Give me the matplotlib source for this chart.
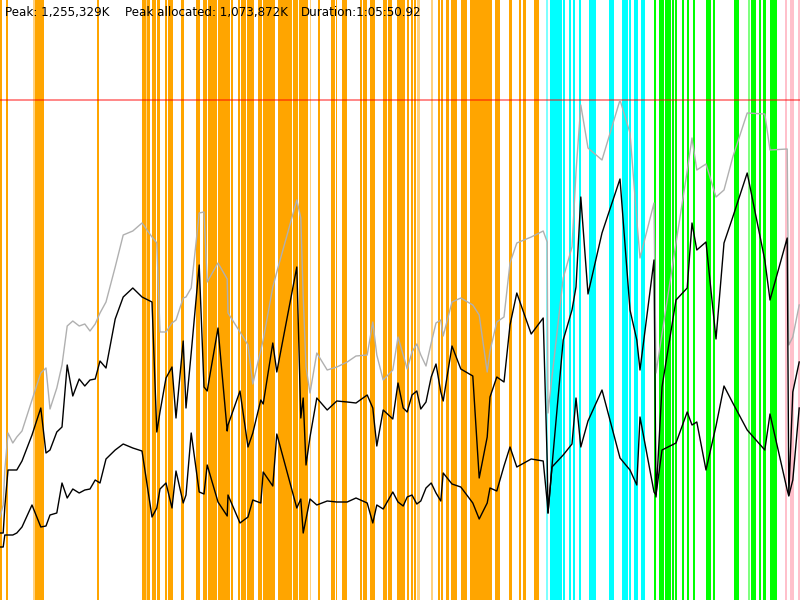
import matplotlib
matplotlib.use("Agg")
from matplotlib import pyplot as plt

# time as % of the run (1:05:50.92), memory as % of peak heap (1,255,329K)
t = [0, 0.4, 0.6, 1.0, 1.6, 2.1, 2.75, 4.0, 5.1, 5.75, 6.25, 7.1, 7.75, 8.4, 9.1, 9.9,
     10.6, 11.25, 11.9, 12.5, 13.25, 14.4, 15.4, 16.6, 17.75, 19.0, 19.6, 20.0, 20.75,
     21.5, 22.0, 22.9, 23.25, 23.9, 24.9, 25.5, 25.9, 27.25, 28.4, 28.5, 30.0, 31.0,
     31.6, 32.6, 32.9, 34.1, 34.6, 37.1, 37.6, 37.9, 38.25, 38.75, 39.6, 40.9, 42.1,
     43.4, 44.5, 45.9, 46.6, 47.1, 47.9, 49.1, 49.75, 50.4, 50.9, 51.5, 52.1, 52.6,
     53.25, 53.9, 54.5, 55.1, 55.4, 56.5, 57.6, 59.1, 59.9, 60.9, 61.25, 62.1, 63.0,
     63.75, 64.6, 66.4, 67.9, 68.4, 68.5, 69.0, 70.4, 71.5, 72.0, 72.6, 73.5, 75.25,
     77.5, 78.75, 79.6, 80.0, 81.75, 82.0, 82.75, 84.5, 85.9, 86.5, 87.1, 88.25, 89.5,
     90.5, 91.6, 93.4, 95.6, 96.25, 98.4, 98.6, 99.1, 99.9]

heap = [16.6, 19.0, 26.0, 33.4, 31.4, 32.6, 33.8, 40.0, 45.4, 46.4, 38.2, 42.4, 47.0,
        54.8, 55.8, 54.8, 55.2, 53.8, 55.2, 57.4, 59.6, 66.6, 73.0, 73.8, 75.4, 72.6,
        71.4, 53.6, 53.6, 55.4, 56.0, 60.4, 60.6, 62.4, 77.4, 77.6, 63.6, 67.4, 64.2,
        57.4, 53.6, 51.0, 43.2, 50.0, 52.0, 62.6, 65.6, 80.0, 76.4, 60.6, 46.6, 41.4,
        49.4, 46.0, 46.6, 47.6, 48.8, 49.0, 55.6, 49.0, 44.0, 46.0, 52.6, 49.0, 46.2,
        49.6, 51.2, 49.0, 46.8, 51.4, 55.4, 56.0, 52.8, 59.6, 60.4, 59.0, 57.0, 45.6,
        49.8, 55.6, 56.6, 67.4, 71.4, 72.6, 73.8, 71.6, 37.4, 44.6, 64.4, 70.6, 85.6,
        99.0, 90.4, 88.0, 100.0, 93.4, 76.0, 68.4, 79.4, 45.4, 53.2, 71.4, 85.8, 92.4,
        86.0, 87.2, 80.6, 82.0, 88.6, 97.4, 97.2, 90.0, 90.2, 51.0, 52.6, 59.0]

allocated = [13.4, 13.4, 18.6, 26.0, 26.0, 26.0, 27.8, 33.0, 38.4, 29.4, 30.0, 33.6,
             34.6, 47.0, 40.8, 44.2, 42.8, 44.0, 44.2, 47.8, 46.4, 56.2, 60.6, 62.4,
             60.6, 59.6, 33.6, 37.6, 44.4, 46.6, 36.4, 51.8, 38.4, 49.4, 67.0, 42.6,
             41.8, 54.4, 33.8, 35.0, 41.8, 30.6, 33.4, 40.0, 39.2, 51.4, 45.6, 66.6,
             36.4, 40.4, 27.0, 32.6, 40.4, 38.0, 39.8, 39.6, 39.4, 41.0, 38.4, 30.8,
             38.0, 36.2, 43.4, 38.4, 37.6, 41.0, 41.8, 38.2, 39.6, 44.6, 47.2, 41.6,
             39.8, 50.8, 46.2, 44.8, 24.4, 32.6, 40.6, 44.6, 43.6, 55.0, 61.4, 53.2,
             56.4, 27.8, 17.4, 26.8, 52.0, 58.0, 62.6, 80.6, 61.2, 73.4, 84.2, 58.0,
             52.0, 46.0, 68.0, 20.6, 42.6, 60.0, 62.4, 75.4, 70.0, 71.6, 52.2, 71.4,
             76.6, 85.4, 68.0, 60.0, 72.4, 21.0, 41.6, 47.6]

live = [10.6, 10.6, 13.0, 13.0, 13.0, 13.4, 14.6, 19.0, 14.6, 14.8, 17.0, 17.4, 23.4,
        20.4, 22.2, 21.4, 22.0, 22.2, 24.0, 23.4, 28.2, 30.0, 31.2, 30.4, 29.8, 16.6,
        18.4, 22.2, 23.4, 18.4, 25.8, 19.4, 21.0, 33.4, 21.6, 21.2, 27.0, 19.6, 16.8,
        21.0, 15.4, 16.6, 20.0, 19.4, 25.6, 22.8, 33.2, 18.4, 20.2, 13.4, 16.2, 20.2,
        19.0, 19.8, 19.6, 19.6, 20.4, 19.4, 15.4, 19.0, 18.2, 21.6, 19.6, 18.8, 20.6,
        21.0, 19.2, 19.8, 22.4, 23.4, 21.4, 19.8, 25.4, 23.2, 22.6, 19.4, 16.2, 19.4,
        22.4, 21.8, 26.8, 30.6, 26.6, 28.2, 27.8, 19.6, 17.4, 26.6, 29.0, 31.2, 40.4,
        30.6, 35.8, 42.0, 28.4, 26.0, 23.0, 36.6, 21.6, 21.0, 30.0, 31.4, 37.6, 35.0,
        35.6, 26.0, 34.8, 42.8, 39.4, 34.0, 30.0, 37.2, 22.0, 20.8, 24.0, 38.4]

# GC / phase event spans (start, end) in % of the run
orange_spans = [(0, 0.25), (0.75, 1.0), (4.375, 5.5), (12.125, 12.375), (17.75, 18.25),
                (18.375, 18.75), (19.0, 19.5), (19.625, 20.0), (20.625, 20.875),
                (21.0, 21.625), (22.625, 23.0), (24.5, 25.0), (25.375, 25.875),
                (25.94, 27.125), (27.25, 28.75), (28.875, 29.125), (29.75, 30.0),
                (30.125, 30.75), (30.875, 31.75), (32.25, 32.75), (32.875, 34.375),
                (34.75, 36.5), (36.625, 37.25), (37.375, 38.5), (39.75, 40.0),
                (41.375, 41.875), (42.0, 42.125), (42.75, 43.375), (45.0, 45.25),
                (45.375, 45.875), (46.25, 46.875), (47.875, 48.375), (48.5, 49.0),
                (49.625, 50.625), (50.875, 51.125), (51.375, 51.625), (51.75, 52.0),
                (54.75, 55.0), (55.125, 55.375), (55.75, 56.125), (56.375, 57.125),
                (57.625, 58.375), (58.75, 61.5), (61.875, 62.5), (63.625, 64.0),
                (64.875, 65.125), (65.375, 65.75), (66.75, 67.375)]
orange_faint = [(4.125, 4.375), (18.25, 18.375), (38.75, 38.875), (52.125, 52.5),
                (53.875, 54.125)]
cyan_spans = [(68.75, 70.25), (70.375, 70.625), (71.125, 71.375), (71.625, 71.875),
              (72.375, 72.625), (73.625, 74.5), (76.125, 76.75), (77.75, 78.5),
              (78.625, 78.875), (79.25, 79.75), (80.125, 80.625)]
cyan_faint = [(68.25, 68.5)]
green_spans = [(81.75, 82.0), (82.375, 83.0), (83.125, 83.875), (84.0, 84.25),
               (84.375, 84.625), (85.25, 85.5), (85.875, 86.125), (86.625, 86.875),
               (88.25, 88.875), (89.125, 89.375), (91.75, 92.375), (93.875, 94.5),
               (94.875, 95.125), (95.375, 95.75), (96.25, 97.125)]
green_faint = [(93.5, 93.75)]
pink_spans = [(98.125, 98.375), (98.75, 99.25), (99.75, 100.0)]

peak_level = 100.0
labels = ["Peak: 1,255,329K", "Peak allocated: 1,073,872K", "Duration:1:05:50.92"]
label_pos = [0.6, 15.6, 37.6]

fig = plt.figure(figsize=(8, 6), dpi=100)
ax = fig.add_axes([0, 0, 1, 1])
ax.set_xlim(0, 100)
ax.set_ylim(0, 120)
ax.axis('off')

for spans, col, a in [(orange_spans, '#ffa500', 1.0), (orange_faint, '#ffa500', 0.5),
                      (cyan_spans, '#00ffff', 1.0), (cyan_faint, '#00ffff', 0.5),
                      (green_spans, '#00ff00', 1.0), (green_faint, '#00ff00', 0.5),
                      (pink_spans, '#ffc0cb', 1.0)]:
    for s, e in spans:
        ax.axvspan(s, e, color=col, alpha=a, lw=0, zorder=1)

ax.axhline(peak_level, color='red', alpha=0.55, lw=1.2, zorder=2)

ax.plot(t, heap, color='#b0b0b0', lw=1.0, zorder=3)
ax.plot(t, allocated, color='black', lw=1.0, zorder=4)
ax.plot(t, live, color='black', lw=1.0, zorder=4)

for s, x in zip(labels, label_pos):
    ax.text(x, 117.5, s, fontsize=8.6, family='DejaVu Sans', va='center', ha='left', zorder=5)

fig.savefig('out.png', dpi=100)
